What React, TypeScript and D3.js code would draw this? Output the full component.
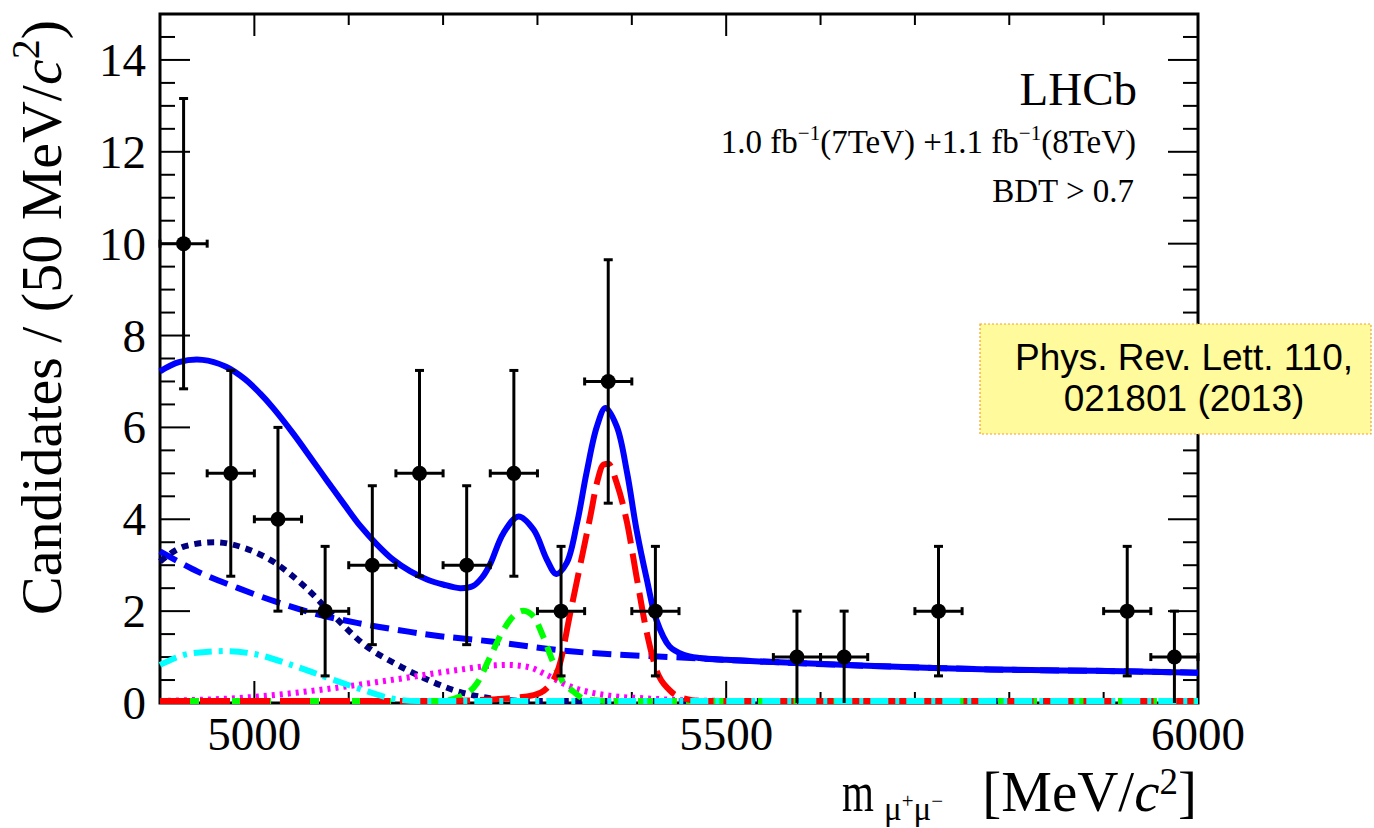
import * as d3 from 'd3'

// Data read from the LHCb B(s)->mumu mass plot (BDT > 0.7)
const binCenters = [4925, 4975, 5025, 5075, 5125, 5175, 5225, 5275, 5325, 5375, 5425, 5575, 5625, 5725, 5925, 5975]
const counts = [10, 5, 4, 2, 3, 5, 3, 5, 2, 7, 2, 1, 1, 2, 2, 1]
const countErrors = [3.16, 2.24, 2.0, 1.41, 1.73, 2.24, 1.73, 2.24, 1.41, 2.65, 1.41, 1.0, 1.0, 1.41, 1.41, 1.0]
const binHalfWidth = 25

// total fit (solid blue)
const totalMass = [4900, 4920, 4945, 4970, 4990, 5006, 5020, 5041, 5060, 5077, 5095, 5112, 5130, 5147, 5165, 5183, 5200, 5218, 5232, 5242, 5250, 5264, 5280, 5296, 5310, 5320, 5331, 5342, 5352, 5363, 5372, 5384, 5395, 5405, 5416, 5426, 5440, 5455, 5472, 5500, 5550, 5650, 5780, 5890, 6000]
const totalVal = [7.22, 7.42, 7.47, 7.32, 7.05, 6.74, 6.42, 5.87, 5.33, 4.84, 4.33, 3.86, 3.45, 3.12, 2.87, 2.69, 2.58, 2.50, 2.55, 2.75, 3.03, 3.70, 4.06, 3.77, 3.12, 2.81, 3.05, 3.92, 5.01, 6.02, 6.42, 6.02, 5.01, 3.77, 2.68, 1.81, 1.23, 1.05, 0.98, 0.94, 0.89, 0.81, 0.73, 0.70, 0.66]

// combinatorial background (blue dashed)
const combMass = [4900, 4940, 4983, 5025, 5067, 5110, 5152, 5195, 5251, 5338, 5472, 5550, 5650, 5780, 5890, 6000]
const combVal = [3.30, 2.86, 2.50, 2.19, 1.93, 1.74, 1.59, 1.46, 1.34, 1.12, 0.97, 0.89, 0.81, 0.73, 0.70, 0.66]

// navy dotted
const navyMass = [4900, 4926, 4958, 4990, 5022, 5053, 5085, 5117, 5149, 5180, 5216, 5251, 5290, 5350, 6000]
const navyVal = [3.08, 3.41, 3.50, 3.37, 3.05, 2.54, 1.88, 1.26, 0.86, 0.54, 0.25, 0.10, 0.02, 0, 0]

// cyan dash-dot
const cyanMass = [4900, 4933, 4969, 5004, 5039, 5075, 5110, 5145, 5173, 5200, 6000]
const cyanVal = [0.83, 1.08, 1.13, 1.05, 0.83, 0.57, 0.32, 0.10, 0.03, 0, 0]

// magenta dotted
const magMass = [4900, 5004, 5075, 5145, 5216, 5255, 5267, 5289, 5310, 5331, 5352, 5380, 5416, 5472, 5520, 6000]
const magVal = [0.04, 0.14, 0.30, 0.50, 0.72, 0.82, 0.83, 0.79, 0.61, 0.39, 0.25, 0.15, 0.10, 0.05, 0, 0]

// green dashed (B0)
const greenMass = [4900, 5150, 5197, 5218, 5236, 5250, 5264, 5276, 5285, 5296, 5306, 5317, 5327, 5338, 5352, 5380, 6000]
const greenVal = [0, 0, 0.03, 0.14, 0.43, 1.01, 1.59, 1.92, 2.01, 1.88, 1.45, 0.87, 0.46, 0.25, 0.07, 0, 0]

// red long dashed (Bs)
const redMass = [4900, 5150, 5197, 5267, 5296, 5313, 5324, 5334, 5345, 5356, 5363, 5370, 5375, 5384, 5395, 5405, 5416, 5426, 5440, 5455, 5472, 5500, 6000]
const redVal = [0, 0, 0.02, 0.10, 0.17, 0.39, 0.87, 1.88, 2.97, 4.06, 4.79, 5.19, 5.21, 4.79, 3.92, 2.75, 1.52, 0.72, 0.28, 0.10, 0.02, 0, 0]

const yTickLabels = [0, 2, 4, 6, 8, 10, 12, 14]
const xTickLabels = [5000, 5500, 6000]

const SERIF = '"Liberation Serif", "Times New Roman", serif'
const SANS = '"Liberation Sans", Arial, sans-serif'

export default function App() {
  const W = 1374
  const H = 828
  const left = 160, right = 1198, top = 14, bottom = 703

  const x = d3.scaleLinear().domain([4900, 6000]).range([left, right])
  const y = d3.scaleLinear().domain([0, 15]).range([bottom, top])

  const line = (ms: number[], vs: number[], smooth = false) =>
    d3.line<number>()
      .x((_, i) => x(ms[i]))
      .y((v) => Math.min(y(v), bottom - 2))
      .curve(smooth ? d3.curveCatmullRom.alpha(0.5) : d3.curveMonotoneX)(vs) || ''

  const components = [
    { d: line(combMass, combVal, true), color: '#0000ff', dash: '19 9', w: 6 },
    { d: line(navyMass, navyVal), color: '#000080', dash: '7 6', w: 6 },
    { d: line(magMass, magVal), color: '#ff00ff', dash: '3 5', w: 6 },
    { d: line(greenMass, greenVal), color: '#00ff00', dash: '15 9', w: 6 },
    { d: line(redMass, redVal), color: '#ff0000', dash: '30 10', w: 6 },
    { d: line(cyanMass, cyanVal), color: '#00ffff', dash: '18 7 4 7', w: 6 },
  ]

  const yMinor = d3.range(0, 15.01, 0.5)
  const xMinor = d3.range(5000, 6001, 100)

  return (
    <div style={{ position: 'fixed', left: 0, top: 0, width: W, height: H, background: '#fff' }}>
      <svg width={W} height={H} style={{ display: 'block' }}>
        {/* ticks and frame */}
        <g stroke="#000" strokeWidth={2}>
          {yMinor.map((v) => {
            const major = yTickLabels.includes(v)
            const len = major ? 30 : 15
            return (
              <g key={'y' + v}>
                <line x1={left} x2={left + len} y1={y(v)} y2={y(v)} />
                <line x1={right} x2={right - len} y1={y(v)} y2={y(v)} />
              </g>
            )
          })}
          {xMinor.map((v) => {
            const major = xTickLabels.includes(v)
            const len = major ? 22 : 11
            return (
              <g key={'x' + v}>
                <line x1={x(v)} x2={x(v)} y1={bottom} y2={bottom - len} />
                <line x1={x(v)} x2={x(v)} y1={top} y2={top + len} />
              </g>
            )
          })}
        </g>
        <rect x={left} y={top} width={right - left} height={bottom - top} fill="none" stroke="#000" strokeWidth={3} />

        {/* components */}
        {components.map((c, i) => (
          <path key={i} d={c.d} fill="none" stroke={c.color} strokeWidth={c.w} strokeDasharray={c.dash} />
        ))}
        {/* total fit */}
        <path d={line(totalMass, totalVal, true)} fill="none" stroke="#0000ff" strokeWidth={6} />

        {/* data points */}
        {binCenters.map((m, i) => {
          const cx = x(m)
          const cy = y(counts[i])
          const y1 = y(counts[i] + countErrors[i])
          const y0 = y(Math.max(counts[i] - countErrors[i], 0))
          const xl = x(m - binHalfWidth)
          const xr = x(m + binHalfWidth)
          return (
            <g key={m} stroke="#000" strokeWidth={3}>
              <line x1={cx} x2={cx} y1={y1} y2={y0} />
              <line x1={xl} x2={xr} y1={cy} y2={cy} />
              <line x1={cx - 4.5} x2={cx + 4.5} y1={y1} y2={y1} />
              {y0 < bottom - 1 && <line x1={cx - 4.5} x2={cx + 4.5} y1={y0} y2={y0} />}
              <line x1={xl} x2={xl} y1={cy - 4} y2={cy + 4} />
              <line x1={xr} x2={xr} y1={cy - 4} y2={cy + 4} />
              <circle cx={cx} cy={cy} r={7.5} fill="#000" stroke="none" />
            </g>
          )
        })}

        {/* tick labels */}
        <g fontFamily={SERIF} fontSize={47} fill="#000">
          {yTickLabels.map((v) => (
            <text key={v} x={146} y={y(v) + 16} textAnchor="end">{v}</text>
          ))}
          {xTickLabels.map((v) => (
            <text key={v} x={x(v)} y={750} textAnchor="middle">{v}</text>
          ))}
        </g>

        {/* axis titles */}
        <text transform="translate(61,615) rotate(-90)" fontFamily={SERIF} fontSize={58} fill="#000">
          Candidates / (50 MeV/<tspan fontStyle="italic">c</tspan>
          <tspan fontSize={40} dy={-22}>2</tspan>
          <tspan dy={22}>)</tspan>
        </text>
        <g fontFamily={SERIF} fill="#000">
          <text transform="translate(842,811) scale(0.72,1)" fontSize={57}>m</text>
          <text x={884} y={820} fontSize={33}>
            μ<tspan fontSize={21} dy={-12}>+</tspan>
            <tspan dy={12}>μ</tspan>
            <tspan fontSize={21} dy={-12}>−</tspan>
          </text>
          <text x={1197} y={811} fontSize={57} textAnchor="end">
            [MeV/<tspan fontStyle="italic">c</tspan>
            <tspan fontSize={37} dy={-17}>2</tspan>
            <tspan dy={17}>]</tspan>
          </text>
        </g>

        {/* LHCb labels */}
        <g fontFamily={SERIF} fill="#000" textAnchor="end">
          <text x={1137} y={105} fontSize={47}>LHCb</text>
          <text x={1136} y={153} fontSize={33}>
            1.0 fb<tspan fontSize={21} dy={-13}>−1</tspan>
            <tspan dy={13}>(7TeV) +1.1 fb</tspan>
            <tspan fontSize={21} dy={-13}>−1</tspan>
            <tspan dy={13}>(8TeV)</tspan>
          </text>
          <text x={1134} y={202} fontSize={33}>BDT &gt; 0.7</text>
        </g>

        {/* reference box */}
        <rect x={980} y={324} width={391} height={110} fill="#fffa9c" stroke="#f0a030" strokeWidth={1.2} strokeDasharray="2 2" />
        <g fontFamily={SANS} fontSize={37} fill="#000" textAnchor="middle">
          <text x={1184} y={370}>Phys. Rev. Lett. 110,</text>
          <text x={1184} y={411}>021801 (2013)</text>
        </g>
      </svg>
    </div>
  )
}
